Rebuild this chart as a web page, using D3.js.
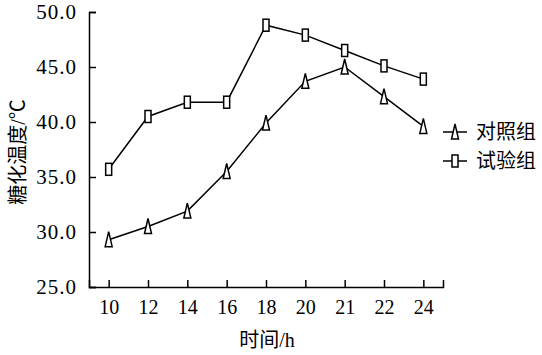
<!DOCTYPE html>
<html lang="zh">
  <head>
    <meta charset="utf-8" />
    <title>糖化温度</title>
    <script src="https://cdn.jsdelivr.net/npm/d3@7"></script>
    <style>
      body { margin: 0; background: #fff; }
      text { font-family: "Liberation Serif", "Noto Sans CJK SC", serif; fill: #000; }
    </style>
  </head>
  <body>
    <svg width="542" height="355"></svg>
    <script>
      const hours = ["10", "12", "14", "16", "18", "20", "21", "22", "24"];
      const control = [29.3, 30.5, 31.9, 35.5, 39.9, 43.7, 45.0, 42.3, 39.6];
      const trial = [35.7, 40.5, 41.8, 41.8, 48.8, 47.9, 46.5, 45.1, 43.9];
      const yTicks = [25, 30, 35, 40, 45, 50];

      const svg = d3.select("svg");
      const plotLeft = 89, plotRight = 443, plotTop = 12, plotBottom = 287;

      const x = d3.scalePoint().domain(hours).range([plotLeft, plotRight]).padding(0.5);
      const y = d3.scaleLinear().domain([25, 50]).range([plotBottom, plotTop]);

      const xAxis = d3.axisBottom(x).tickSizeInner(-7).tickSizeOuter(-7).tickPadding(13);
      const yAxis = d3.axisLeft(y).tickValues(yTicks).tickFormat(d3.format(".1f"))
        .tickSizeInner(-7).tickSizeOuter(-7).tickPadding(12);

      function styleAxis(g) {
        g.select(".domain").attr("stroke", "#000").attr("stroke-width", 1.5);
        g.selectAll(".tick line").attr("stroke", "#000").attr("stroke-width", 1.5);
        g.selectAll(".tick text").attr("font-size", 20)
          .attr("font-family", "Liberation Serif");
      }

      svg.append("g").attr("transform", `translate(0,${plotBottom})`).call(xAxis).call(styleAxis);
      svg.append("g").attr("transform", `translate(${plotLeft},0)`).call(yAxis).call(styleAxis)
        .selectAll(".tick text").attr("font-size", 21).attr("letter-spacing", 1);

      // axis titles
      svg.append("text").attr("x", 267).attr("y", 347).attr("text-anchor", "middle")
        .attr("font-size", 20).text("时间/h");
      svg.append("text").attr("transform", "translate(25,152) rotate(-90)")
        .attr("text-anchor", "middle").attr("font-size", 20).text("糖化温度/℃");

      const line = d3.line().x((d, i) => x(hours[i])).y(d => y(d));
      const triPath = "M0,-8L3.5,7L-3.5,7Z";

      function drawSeries(values, marker) {
        svg.append("path").datum(values).attr("d", line)
          .attr("fill", "none").attr("stroke", "#000").attr("stroke-width", 1.5);
        const pts = svg.append("g").selectAll("g").data(values).join("g")
          .attr("transform", (d, i) => `translate(${x(hours[i])},${y(d)})`);
        marker(pts);
      }

      const triMarker = sel => sel.append("path").attr("d", triPath)
        .attr("fill", "#fff").attr("stroke", "#000").attr("stroke-width", 1.5);
      const rectMarker = sel => sel.append("rect").attr("x", -3).attr("y", -6)
        .attr("width", 6).attr("height", 12)
        .attr("fill", "#fff").attr("stroke", "#000").attr("stroke-width", 1.5);

      drawSeries(trial, rectMarker);
      drawSeries(control, triMarker);

      // legend
      const legend = [
        { name: "对照组", marker: triMarker, y: 132 },
        { name: "试验组", marker: rectMarker, y: 161 },
      ];
      legend.forEach(l => {
        svg.append("line").attr("x1", 443).attr("x2", 467).attr("y1", l.y).attr("y2", l.y)
          .attr("stroke", "#000").attr("stroke-width", 1.5);
        l.marker(svg.append("g").attr("transform", `translate(455,${l.y})`));
        svg.append("text").attr("x", 476).attr("y", l.y).attr("dy", "0.35em")
          .attr("font-size", 20).text(l.name);
      });
    </script>
  </body>
</html>
